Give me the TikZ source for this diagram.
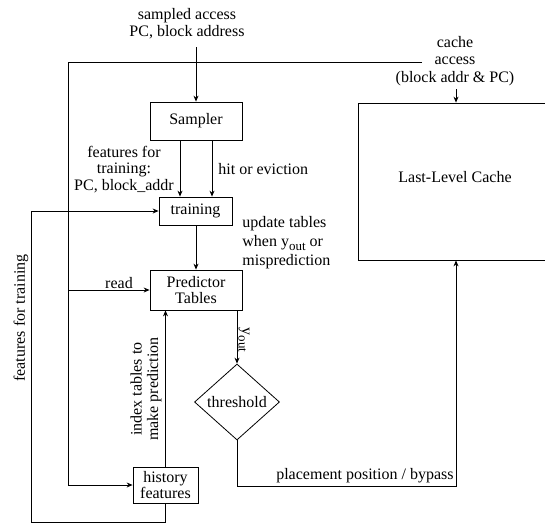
\documentclass[tikz,border=0pt]{standalone}
\usepackage{fontspec}
\setmainfont{Liberation Serif}
\usetikzlibrary{arrows.meta,shapes.geometric}
\newcommand{\yout}{y\raisebox{-3.5pt}{\fontsize{13}{13}\selectfont out}}
\begin{document}
\begin{tikzpicture}[x=1pt,y=-1pt,
  font=\fontsize{16}{17.5}\selectfont,
  line width=0.8pt,
  box/.style={draw, rectangle, inner sep=0pt, align=center},
  arr/.style={-{Stealth[length=6pt,width=5pt]}},
  lbl/.style={inner sep=0pt, align=center}]
\useasboundingbox (0,0) rectangle (545,525);
\clip (0,0) rectangle (545,525);

% boxes
\node[box, minimum width=92pt, minimum height=38pt] (samp) at (196,121) {Sampler};
\node[box, minimum width=73pt, minimum height=28pt] (train) at (195.5,211) {training};
\node[box, minimum width=92pt, minimum height=40pt] (pred) at (196,290) {Predictor\\[-1pt]Tables};
\node[box, minimum width=65pt, minimum height=36pt] (hist) at (165.5,485) {history\\[-2pt]features};
\node[draw, diamond, inner sep=0pt, minimum width=85pt, minimum height=76pt] (thr) at (237,402) {threshold};
\node[box, minimum width=193pt, minimum height=157pt] (llc) at (454.5,181.5) {};
\node[lbl] (llct) at (455,177) {Last-Level Cache};

% labels
\node[lbl] (sa) at (187,23.5) {sampled access\\PC, block address};
\node[lbl] (ca) at (455,61) {cache\\access\\(block addr \& PC)};
\node[lbl] (fft) at (124,169.5) {features for\\[-1pt]training:\\[-1pt]PC, block\_addr};
\node[lbl, anchor=west] (hoe) at (218,169) {hit or eviction};
\node[lbl, align=left, anchor=west, font=\fontsize{16}{19}\selectfont] (upd) at (242,243) {update tables\\when \yout{} or\\misprediction};
\node[lbl] (rd) at (119,283) {read};
\node[lbl, rotate=90] (itp) at (146,389) {index tables to\\[-1pt]make prediction};
\node[lbl, rotate=-90] (yo) at (244,340) {\yout};
\node[lbl, anchor=base east] (ppb) at (454,479) {placement position / bypass};
\node[lbl, rotate=90] (fftr) at (21,318) {features for training};

% coordinates
\coordinate (saend) at (196,47);
\coordinate (caend) at (456,89);
\coordinate (cstart) at (422,62);
\coordinate (bus) at (68,62);
\coordinate (fbl) at (31,522);
\coordinate (plc) at (456,486);

% connectors
\draw[arr] (saend) -- (samp.north);
\draw[arr] (caend) -- (caend |- llc.north);
\draw (cstart) -- (bus);
\draw[arr] (bus) |- (hist.west);
\draw[arr] (bus |- pred.west) -- (pred.west);
\draw[arr] ([xshift=-16pt]samp.south) -- ([xshift=-16pt]samp.south |- train.north);
\draw[arr] ([xshift=16pt]samp.south) -- ([xshift=16pt]samp.south |- train.north);
\draw[arr] (train.south -| pred.north) -- (pred.north);
\draw[arr] (hist.north) -- (hist.north |- pred.south);
\draw[arr] (pred.south -| thr.north) -- (thr.north);
\draw[arr] (thr.south) |- (plc) -- (plc |- llc.south);
\draw[arr] (hist.south) |- (fbl) |- (train.west);
\end{tikzpicture}
\end{document}
